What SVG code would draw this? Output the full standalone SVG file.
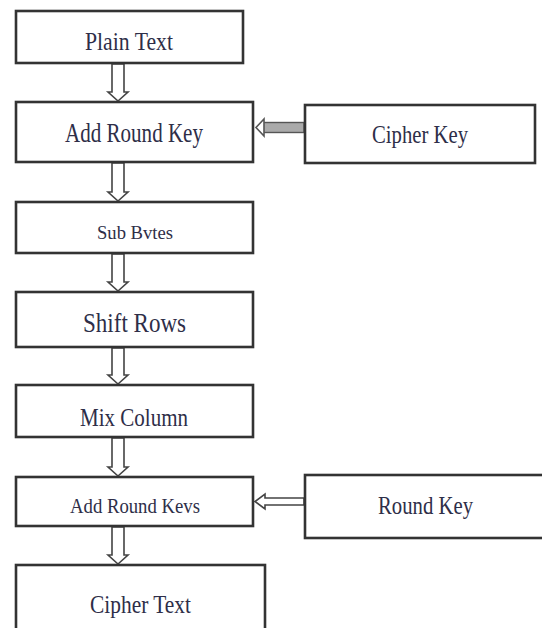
<svg xmlns="http://www.w3.org/2000/svg" width="542" height="628" viewBox="0 0 542 628">
<style>
.box{fill:#fff;stroke:#333;stroke-width:2.6}
.lbl{font-family:"Liberation Serif","Times New Roman",serif;fill:#2e2e48;text-anchor:middle}
.arr{fill:#fff;stroke:#444;stroke-width:1.6;stroke-linejoin:miter}
.harr{fill:#aaa;stroke:#555;stroke-width:1.4}
.head{fill:#fff;stroke:#555;stroke-width:1.6}
</style>
<rect width="542" height="628" fill="#fff"/>
<g id="connectors">
<path class="arr" d="M112,64 H124 V92 H128 L118,101 L108,92 H112 Z"/>
<path class="arr" d="M112,163 H124 V192 H128 L118,201 L108,192 H112 Z"/>
<path class="arr" d="M112,254 H124 V282 H128 L118,291 L108,282 H112 Z"/>
<path class="arr" d="M112,348 H124 V375 H128 L118,384 L108,375 H112 Z"/>
<path class="arr" d="M112,438 H124 V467 H128 L118,476 L108,467 H112 Z"/>
<path class="arr" d="M112,527 H124 V555 H128 L118,564 L108,555 H112 Z"/>
<rect class="harr" x="263" y="122.5" width="41" height="10"/>
<path class="head" d="M264,119 L264,136 L256,127.5 Z"/>
<path class="arr" d="M304,498 H265 V494 L255,501.5 L265,509 V505 H304 Z"/>
</g>
<g id="plain-text"><rect class="box" x="16" y="11" width="227" height="52"/><text class="lbl" x="129" y="50" font-size="26" textLength="88" lengthAdjust="spacingAndGlyphs">Plain Text</text></g>
<g id="add-round-key"><rect class="box" x="16" y="102" width="237" height="60"/><text class="lbl" x="134" y="142" font-size="27" textLength="138" lengthAdjust="spacingAndGlyphs">Add Round Key</text></g>
<g id="cipher-key"><rect class="box" x="305" y="105" width="230" height="58"/><text class="lbl" x="420" y="143" font-size="26" textLength="96" lengthAdjust="spacingAndGlyphs">Cipher Key</text></g>
<g id="sub-bytes"><rect class="box" x="16" y="202" width="237" height="51"/><text class="lbl" x="135" y="239" font-size="18" textLength="76" lengthAdjust="spacingAndGlyphs">Sub Bvtes</text></g>
<g id="shift-rows"><rect class="box" x="16" y="292" width="237" height="55"/><text class="lbl" x="134.5" y="332" font-size="28" textLength="103" lengthAdjust="spacingAndGlyphs">Shift Rows</text></g>
<g id="mix-column"><rect class="box" x="16" y="385" width="237" height="52"/><text class="lbl" x="134" y="426" font-size="26" textLength="108" lengthAdjust="spacingAndGlyphs">Mix Column</text></g>
<g id="add-round-keys"><rect class="box" x="16" y="477" width="237" height="49"/><text class="lbl" x="135" y="513" font-size="22" textLength="130" lengthAdjust="spacingAndGlyphs">Add Round Kevs</text></g>
<g id="round-key"><rect class="box" x="305" y="475" width="240" height="63"/><text class="lbl" x="425.5" y="514" font-size="26" textLength="95" lengthAdjust="spacingAndGlyphs">Round Key</text></g>
<g id="cipher-text"><rect class="box" x="16" y="565" width="249" height="70"/><text class="lbl" x="140.5" y="613" font-size="26" textLength="101" lengthAdjust="spacingAndGlyphs">Cipher Text</text></g>
</svg>
